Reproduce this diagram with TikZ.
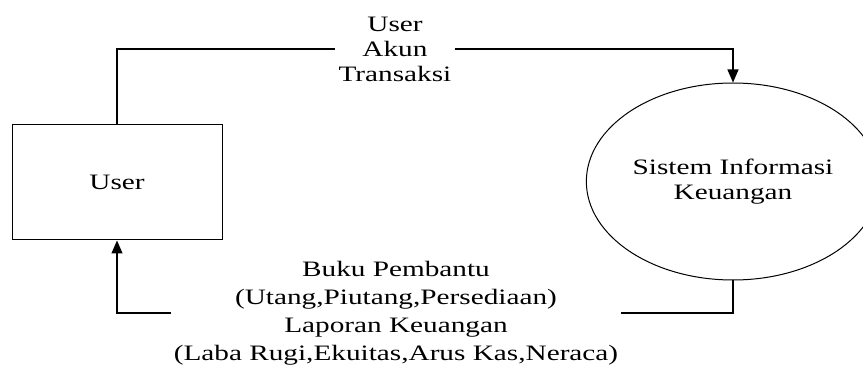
\documentclass[tikz,border=0pt]{standalone}
\usepackage{fontspec}
\setmainfont[FakeStretch=1.33]{Liberation Serif}
\usetikzlibrary{shapes.geometric,arrows.meta}

\tikzset{
	entity/.style={draw, line width=1pt, minimum width=210pt, minimum height=115pt},
	process/.style={draw, ellipse, line width=1pt, minimum width=280pt, minimum height=197pt, align=center},
	flow/.style={line width=1.2pt},
	arrow/.style={flow, -{Triangle[length=13pt,width=11pt]}},
	flowlabel/.style={align=center, inner xsep=3pt, inner ysep=0pt}
}

\begin{document}
\begin{tikzpicture}[x=1pt, y=-1pt, font=\fontsize{22}{25}\selectfont]
\useasboundingbox (0,0) rectangle (863,366);

\node (user) at (117,182.5) [entity] {User};
\node (sik) at (733,181.5) [process] {Sistem Informasi\\Keuangan};

\node (lbltop) at (395,49) [flowlabel] {User\\Akun\\Transaksi};
\node (lblbot) at (396,313) [flowlabel, font=\fontsize{22}{28}\selectfont] {Buku Pembantu\\(Utang,Piutang,Persediaan)\\Laporan Keuangan\\(Laba Rugi,Ekuitas,Arus Kas,Neraca)};

\draw [flow]  (user.north) |- (lbltop.west);
\draw [arrow] (lbltop.east) -| (sik.north);
\draw [flow]  (sik.south) |- (lblbot.east);
\draw [arrow] (lblbot.west) -| (user.south);

\end{tikzpicture}
\end{document}
